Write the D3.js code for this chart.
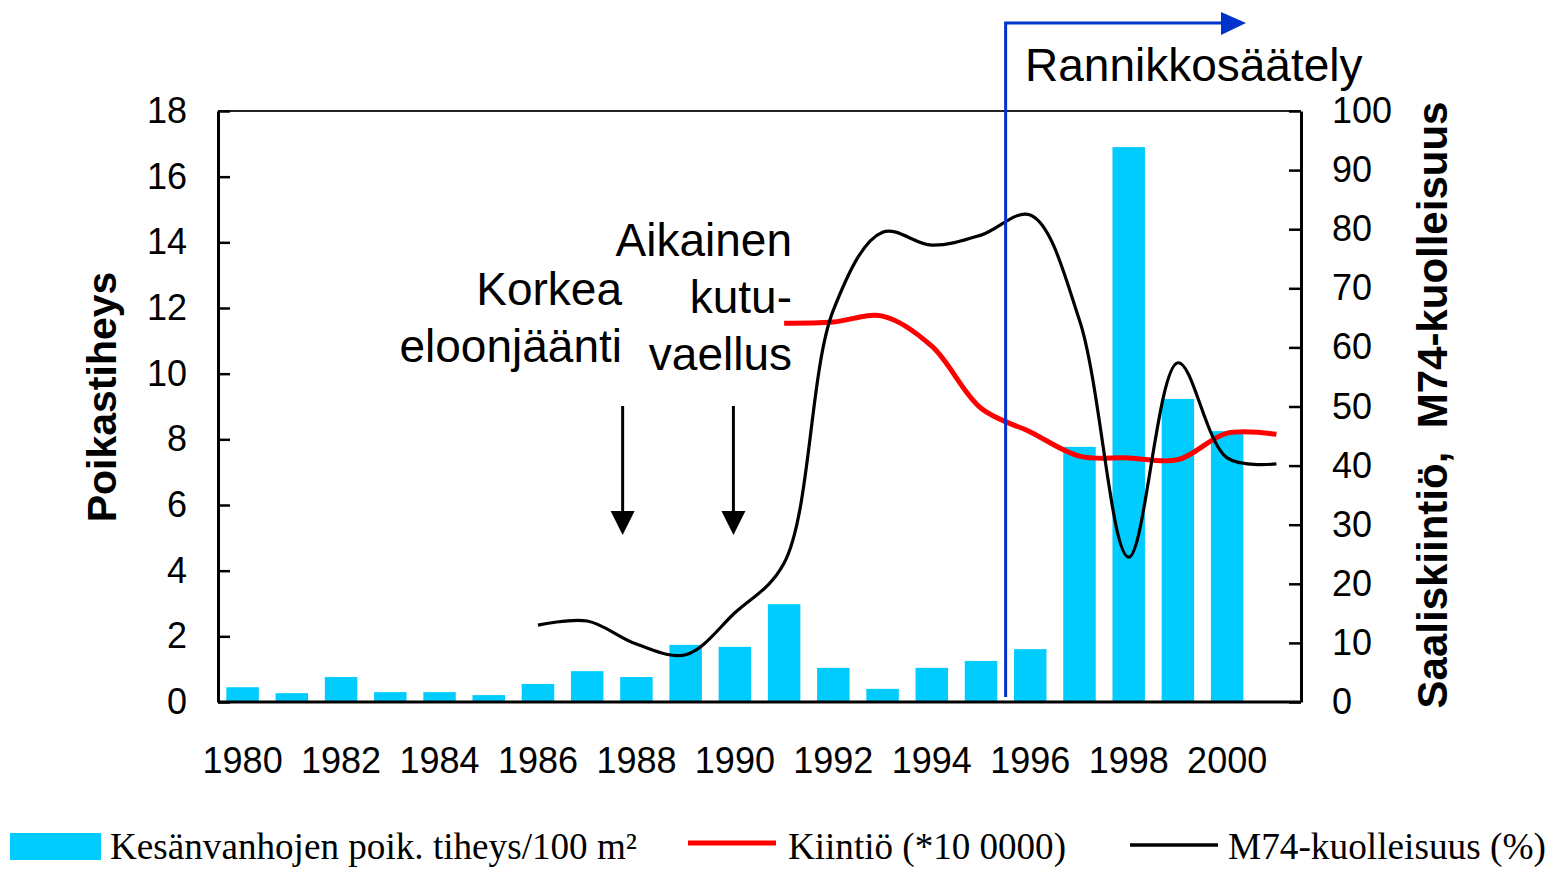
<!DOCTYPE html>
<html><head><meta charset="utf-8">
<script src="https://cdn.jsdelivr.net/npm/d3@7"></script>
<style>body{margin:0;background:#fff;} svg{display:block;}</style>
</head><body>
<script>
// ---- data ----
const years = [1980,1981,1982,1983,1984,1985,1986,1987,1988,1989,1990,1991,1992,1993,1994,1995,1996,1997,1998,1999,2000,2001];
const barYears = [1980,1981,1982,1983,1984,1985,1986,1987,1988,1989,1990,1991,1992,1993,1994,1995,1996,1997,1998,1999,2000];
const density = [0.45,0.27,0.76,0.30,0.30,0.21,0.55,0.94,0.76,1.74,1.68,2.98,1.04,0.40,1.04,1.25,1.61,7.77,16.9,9.23,8.25];
const quotaYears = [1991,1992,1993,1994,1995,1996,1997,1998,1999,2000,2001];
const quota = [64.1,64.3,65.3,60.2,49.7,45.7,41.6,41.3,41.0,45.5,45.3];
const m74Years = [1986,1987,1988,1989,1990,1991,1992,1993,1994,1995,1996,1997,1998,1999,2000,2001];
const m74 = [13.0,13.7,9.8,8.0,15.1,23.5,66.3,79.5,77.3,79.0,82.4,64.6,24.5,57.4,41.3,40.3];
const leftTicks = [0,2,4,6,8,10,12,14,16,18];
const rightTicks = [0,10,20,30,40,50,60,70,80,90,100];
const yearLabels = [1980,1982,1984,1986,1988,1990,1992,1994,1996,1998,2000];
const seriesNames = ["Kesänvanhojen poik. tiheys/100 m²", "Kiintiö (*10 0000)", "M74-kuolleisuus (%)"];
const leftTitle = "Poikastiheys";
const rightTitle = "Saaliskiintiö,  M74-kuolleisuus";

// ---- layout ----
const W = 1552, H = 869;
const L = 218, R = 1301, T = 111, B = 702;
const sans = "'Liberation Sans', Arial, sans-serif";
const serif = "'Liberation Serif', 'Times New Roman', serif";

const svg = d3.select("body").append("svg").attr("width", W).attr("height", H);

const x = d3.scaleBand().domain(years).range([L, R]).paddingInner(0.34).paddingOuter(0.17);
const bw = x.bandwidth();
const xc = y => x(y) + bw / 2;
const xl = d3.scaleLinear().domain([1980, 2001]).range([xc(1980), xc(2001)]);
const yL = d3.scaleLinear().domain([0, 18]).range([B, T]);
const yR = d3.scaleLinear().domain([0, 100]).range([B, T]);

// bars
svg.append("g").selectAll("rect").data(barYears).join("rect")
  .attr("x", d => x(d)).attr("width", bw)
  .attr("y", (d, i) => yL(density[i])).attr("height", (d, i) => B - yL(density[i]))
  .attr("fill", "#00CCFF");

// top border
svg.append("line").attr("x1", L).attr("x2", R).attr("y1", T).attr("y2", T)
  .attr("stroke", "#222").attr("stroke-width", 2);

// axes
const gl = svg.append("g").attr("transform", `translate(${L},0)`)
  .call(d3.axisLeft(yL).tickValues(leftTicks).tickSize(-12).tickSizeOuter(0).tickPadding(31));
const gr = svg.append("g").attr("transform", `translate(${R},0)`)
  .call(d3.axisRight(yR).tickValues(rightTicks).tickSize(-12).tickSizeOuter(0).tickPadding(31));
const gb = svg.append("g").attr("transform", `translate(0,${B})`)
  .call(d3.axisBottom(x).tickValues(yearLabels).tickSize(0).tickSizeOuter(0).tickPadding(45));
[gl, gr, gb].forEach(g => {
  g.select(".domain").attr("stroke", "#000").attr("stroke-width", 3);
  g.selectAll(".tick line").attr("stroke", "#000").attr("stroke-width", 2.5);
  g.selectAll("text").attr("font-family", sans).attr("font-size", 36).attr("fill", "#000");
});
gb.select(".domain").attr("d", `M${L},0H${R}`);

// lines
const redLine = d3.line().x((d, i) => xc(quotaYears[i])).y(d => yR(d)).curve(d3.curveCatmullRom.alpha(0.5));
svg.append("path").attr("d", redLine(quota)).attr("fill", "none")
  .attr("stroke", "#FF0000").attr("stroke-width", 5);
const blackLine = d3.line().x((d, i) => xc(m74Years[i])).y(d => yR(d)).curve(d3.curveCatmullRom.alpha(0.5));
svg.append("path").attr("d", blackLine(m74)).attr("fill", "none")
  .attr("stroke", "#000").attr("stroke-width", 3.2);

// axis titles
svg.append("text").attr("transform", `translate(116,${397}) rotate(-90)`)
  .attr("text-anchor", "middle").attr("font-family", sans).attr("font-weight", "bold")
  .attr("font-size", 41).text(leftTitle);
svg.append("text").attr("transform", `translate(1447,${405}) rotate(-90)`)
  .attr("text-anchor", "middle").attr("font-family", sans).attr("font-weight", "bold")
  .attr("font-size", 42).attr("xml:space", "preserve").style("white-space", "pre").text(rightTitle);

// blue regulation arrow
const bx = xl(1995.5);
svg.append("path").attr("d", `M${bx},697V23H1222`).attr("fill", "none")
  .attr("stroke", "#0033CC").attr("stroke-width", 3);
svg.append("path").attr("d", `M1221,12L1246,23L1221,35Z`).attr("fill", "#0033CC");
svg.append("text").attr("x", 1025).attr("y", 81).attr("font-family", sans)
  .attr("font-size", 46).text("Rannikkosäätely");

// annotations
const ann = [
  {lines: ["Korkea", "eloonjäänti"], xr: 622, y0: 305, year: 1987.72},
  {lines: ["Aikainen", "kutu-", "vaellus"], xr: 792, y0: 256, year: 1989.97}
];
ann.forEach(a => {
  a.lines.forEach((t, i) => svg.append("text").attr("x", a.xr).attr("y", a.y0 + i * 57)
    .attr("text-anchor", "end").attr("font-family", sans).attr("font-size", 46).text(t));
  const ax = xl(a.year);
  svg.append("line").attr("x1", ax).attr("x2", ax).attr("y1", 406).attr("y2", 514)
    .attr("stroke", "#000").attr("stroke-width", 3);
  svg.append("path").attr("d", `M${ax-12},511L${ax+12},511L${ax},535Z`).attr("fill", "#000");
});

// legend
const lg = svg.append("g");
lg.append("rect").attr("x", 10).attr("y", 833).attr("width", 91).attr("height", 27).attr("fill", "#00CCFF");
lg.append("line").attr("x1", 688).attr("x2", 776).attr("y1", 843).attr("y2", 843).attr("stroke", "#FF0000").attr("stroke-width", 5);
lg.append("line").attr("x1", 1130).attr("x2", 1218).attr("y1", 845).attr("y2", 845).attr("stroke", "#000").attr("stroke-width", 3.5);
const legText = [{x: 110, w: 527}, {x: 788, w: 278}, {x: 1228, w: 318}];
legText.forEach((p, i) => lg.append("text").attr("x", p.x).attr("y", 859)
  .attr("font-family", serif).attr("font-size", 38)
  .attr("textLength", p.w).attr("lengthAdjust", "spacingAndGlyphs").text(seriesNames[i]));
</script>
</body></html>
